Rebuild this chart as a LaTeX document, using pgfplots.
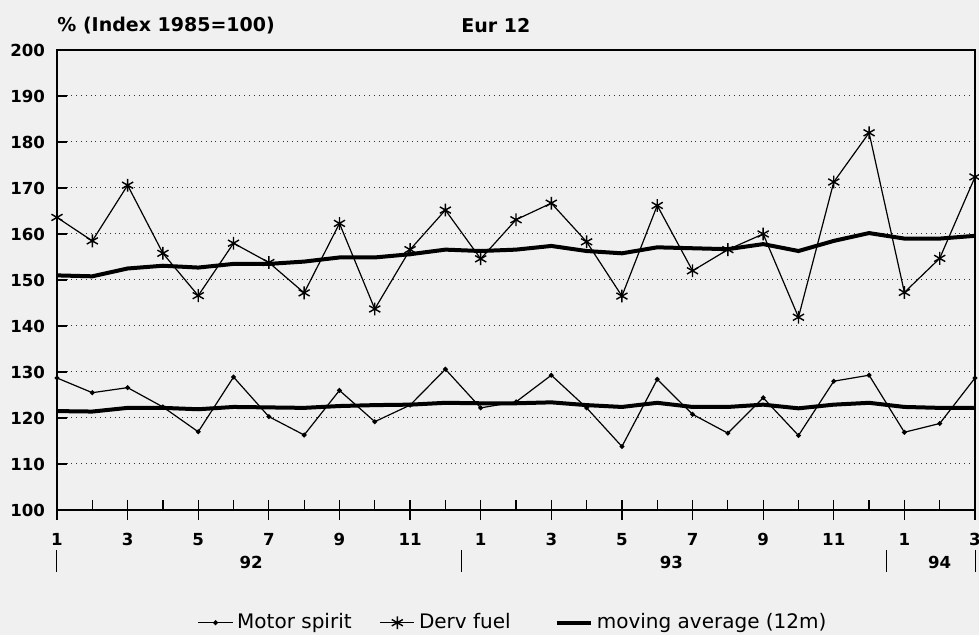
\documentclass[border=0pt]{standalone}
\usepackage{pgfplots}
\pgfplotsset{compat=1.18}
\usepackage{fontspec}
\setmainfont{DejaVu Sans}
\pgfplotstableread{
i motor derv mamotor maderv
0 128.7 163.6 121.5 151.0
1 125.5 158.5 121.4 150.8
2 126.6 170.6 122.2 152.5
3 122.4 155.8 122.2 153.1
4 117.0 146.6 121.9 152.7
5 128.9 158.0 122.4 153.5
6 120.3 153.8 122.3 153.5
7 116.3 147.2 122.2 154.0
8 126.0 162.3 122.6 154.9
9 119.2 143.7 122.8 154.9
10 122.8 156.6 122.9 155.6
11 130.6 165.2 123.3 156.6
12 122.2 154.6 123.2 156.3
13 123.5 163.1 123.2 156.6
14 129.3 166.7 123.4 157.4
15 122.2 158.3 122.8 156.3
16 113.8 146.5 122.4 155.8
17 128.4 166.2 123.3 157.1
18 120.8 152.0 122.4 156.9
19 116.7 156.6 122.4 156.7
20 124.4 160.0 122.9 157.8
21 116.2 141.9 122.1 156.3
22 128.0 171.3 122.9 158.5
23 129.3 182.0 123.3 160.2
24 116.9 147.3 122.4 159.0
25 118.8 154.7 122.2 159.0
26 128.7 172.4 122.2 159.6
}\datatable
\begin{document}
\begin{tikzpicture}
\fill[gray!12] (-28.5pt,-62.5pt) rectangle (461pt,255pt);
\begin{axis}[
  at={(0,0)}, anchor=south west,
  scale only axis, width=459pt, height=230pt,
  xmin=0, xmax=26, ymin=100, ymax=200,
  axis line style={line width=0.7pt},
  ytick=\empty,
  xtick={0,2,...,26}, xticklabels={},
  tick pos=left,
  tick align=outside, major tick length=5pt,
  tick style={black, line width=0.6pt},
]
\end{axis}
\begin{axis}[
  at={(0,0)}, anchor=south west,
  scale only axis, width=459pt, height=230pt,
  xmin=0, xmax=26, ymin=100, ymax=200,
  ytick={100,110,...,200},
  xtick={0,1,...,26},
  xticklabels={1,,3,,5,,7,,9,,11,,1,,3,,5,,7,,9,,11,,1,,3},
  tick pos=left,
  tick align=inside,
  major tick length=5pt,
  ymajorgrids,
  grid style={black!80, dotted, line width=0.5pt},
  axis line style={line width=0.7pt},
  tick style={black, line width=0.6pt},
  tick label style={font=\fontsize{8.3}{10}\selectfont\bfseries},
  /pgf/number format/assume math mode=true,
  xticklabel style={yshift=-8pt},
  yticklabel style={xshift=-2.5pt},
  clip=false,
  legend style={at={(0.498,-0.245)}, anchor=center, draw=none, fill=none,
    legend columns=3, font=\fontsize{10}{11}\selectfont,
    /tikz/column 2/.style={column sep=12pt},
    /tikz/column 4/.style={column sep=20pt}},
  legend cell align=left,
]
\addplot[black, line width=0.6pt, mark=*, mark size=0.9pt] table[x=i,y=motor]{\datatable};
\addlegendentry{Motor spirit}
\addplot[black, line width=0.6pt, mark=asterisk, mark size=3.2pt, mark options={line width=0.7pt}] table[x=i,y=derv]{\datatable};
\addlegendentry{Derv fuel}
\addplot[black, line width=2pt] table[x=i,y=maderv]{\datatable};
\addlegendentry{moving average (12m)}
\addplot[black, line width=2pt, forget plot] table[x=i,y=mamotor]{\datatable};
\node[font=\fontsize{9.5}{11}\selectfont\bfseries, anchor=west, inner sep=0pt] at (rel axis cs:0,1) [yshift=12pt] {\% (Index 1985=100)};
\node[font=\fontsize{9.5}{11}\selectfont\bfseries] at (rel axis cs:0.478,1) [yshift=12pt] {Eur 12};
\node[font=\fontsize{8.3}{10}\selectfont\bfseries] at (axis cs:5.5,100) [yshift=-26pt] {92};
\node[font=\fontsize{8.3}{10}\selectfont\bfseries] at (axis cs:17.4,100) [yshift=-26pt] {93};
\node[font=\fontsize{8.3}{10}\selectfont\bfseries] at (axis cs:25,100) [yshift=-26pt] {94};
\draw[black, line width=0.5pt] ([yshift=-20pt]axis cs:0,100) -- ([yshift=-31pt]axis cs:0,100);
\draw[black, line width=0.5pt] ([yshift=-20pt]axis cs:11.45,100) -- ([yshift=-31pt]axis cs:11.45,100);
\draw[black, line width=0.5pt] ([yshift=-20pt]axis cs:23.5,100) -- ([yshift=-31pt]axis cs:23.5,100);
\draw[black, line width=0.5pt] ([yshift=-20pt]axis cs:26,100) -- ([yshift=-31pt]axis cs:26,100);
\end{axis}
\pgfresetboundingbox
\path[use as bounding box] (-28.5pt,-62.5pt) rectangle (461pt,255pt);
\end{tikzpicture}
\end{document}
